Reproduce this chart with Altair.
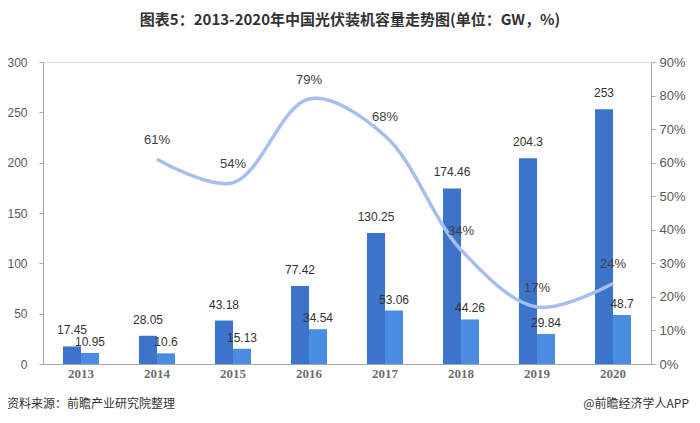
import altair as alt
import pandas as pd

years = ["2013", "2014", "2015", "2016", "2017", "2018", "2019", "2020"]
cumulative = [17.45, 28.05, 43.18, 77.42, 130.25, 174.46, 204.3, 253]
new_added = [10.95, 10.6, 15.13, 34.54, 53.06, 44.26, 29.84, 48.7]
growth_years = ["2014", "2015", "2016", "2017", "2018", "2019", "2020"]
growth = [0.61, 0.54, 0.79, 0.68, 0.34, 0.17, 0.24]
series_names = ["累计装机容量", "新增装机容量"]
bar_colors = ["#3b74c9", "#4a8ce2"]
line_color = "#a7bfee"

title_text = "图表5：2013-2020年中国光伏装机容量走势图(单位：GW，%)"
source_text = "资料来源：前瞻产业研究院整理"
brand_text = "@前瞻经济学人APP"

rows = []
for y, c, n in zip(years, cumulative, new_added):
    rows.append({"year": y, "series": series_names[0], "value": c, "label": f"{c:g}"})
    rows.append({"year": y, "series": series_names[1], "value": n, "label": f"{n:g}"})
bars_df = pd.DataFrame(rows)
line_df = pd.DataFrame({"year": growth_years, "growth": growth,
                        "label": [f"{round(g*100)}%" for g in growth]})

num_font = "Liberation Sans"
cjk_font = "Noto Sans CJK SC"

x_enc = alt.X("year:N", sort=years,
              scale=alt.Scale(domain=years, paddingInner=0.526, paddingOuter=0.263),
              axis=alt.Axis(title=None, labelAngle=0, ticks=False, domainColor="#a6a6a6",
                            labelFont="Liberation Serif", labelFontWeight="bold",
                            labelFontSize=13, labelColor="#6d6d6d", labelPadding=3))
xoff = alt.XOffset("series:N", sort=series_names,
                   scale=alt.Scale(domain=series_names, paddingInner=0, paddingOuter=0))
y_left = alt.Y("value:Q",
               scale=alt.Scale(domain=[0, 300], nice=False),
               axis=alt.Axis(title=None, values=[0, 50, 100, 150, 200, 250, 300],
                             grid=False, domainColor="#a6a6a6", tickColor="#a6a6a6",
                             tickSize=4, labelPadding=12, labelFont=num_font,
                             labelFontSize=12, labelColor="#595959"))

base_bars = alt.Chart(bars_df)
bars = base_bars.mark_bar().encode(
    x=x_enc, xOffset=xoff, y=y_left,
    color=alt.Color("series:N", sort=series_names,
                    scale=alt.Scale(domain=series_names, range=bar_colors), legend=None),
)
bar_text_dark = base_bars.transform_filter(
    alt.datum.series == series_names[0]
).mark_text(baseline="bottom", dy=-9, font=num_font, fontSize=12,
            color="#333333").encode(x=x_enc, xOffset=xoff, y=y_left, text="label:N")
bar_text_light = base_bars.transform_filter(
    alt.datum.series == series_names[1]
).mark_text(baseline="bottom", dy=-4, font=num_font, fontSize=12,
            color="#333333").encode(x=x_enc, xOffset=xoff, y=y_left, text="label:N")
left = alt.layer(bars, bar_text_dark, bar_text_light)

y_right = alt.Y("growth:Q",
                scale=alt.Scale(domain=[0, 0.9], nice=False),
                axis=alt.Axis(title=None, orient="right", format=".0%",
                              values=[0, 0.1, 0.2, 0.3, 0.4, 0.5, 0.6, 0.7, 0.8, 0.9],
                              grid=False, domainColor="#a6a6a6", tickColor="#a6a6a6",
                              tickSize=4, labelPadding=4, labelFont=num_font,
                              labelFontSize=13, labelColor="#595959"))
base_line = alt.Chart(line_df)
line = base_line.mark_line(interpolate="catmull-rom", strokeWidth=3.5,
                           color=line_color).encode(x=x_enc, y=y_right)
line_text = base_line.mark_text(baseline="bottom", dy=-12, font=num_font, fontSize=13,
                                color="#404040").encode(x=x_enc, y=y_right, text="label:N")
right = alt.layer(line, line_text)

foot_data = alt.Data(values=[{"a": 1}])
foot_left = alt.Chart(foot_data).mark_text(
    align="left", baseline="middle", font=cjk_font, fontSize=12, color="#333333"
).encode(x=alt.value(-36), y=alt.value(342), text=alt.value(source_text))
foot_right = alt.Chart(foot_data).mark_text(
    align="right", baseline="middle", font=cjk_font, fontSize=12, color="#333333"
).encode(x=alt.value(646), y=alt.value(342), text=alt.value(brand_text))

chart = alt.layer(left, right, foot_left, foot_right).resolve_scale(
    y="independent"
).properties(
    width=608, height=302,
    title=alt.TitleParams(text=title_text, font=cjk_font, fontSize=15, fontWeight="bold",
                          color="#333333", anchor="middle", frame="group", dx=3,
                          offset=28),
    autosize=alt.AutoSizeParams(type="none"),
    padding={"left": 35, "top": 54, "right": 41, "bottom": 51},
).configure_view(stroke=None).configure(background="white")

chart.save("out.html", embed_options={"renderer": "svg", "actions": False})
